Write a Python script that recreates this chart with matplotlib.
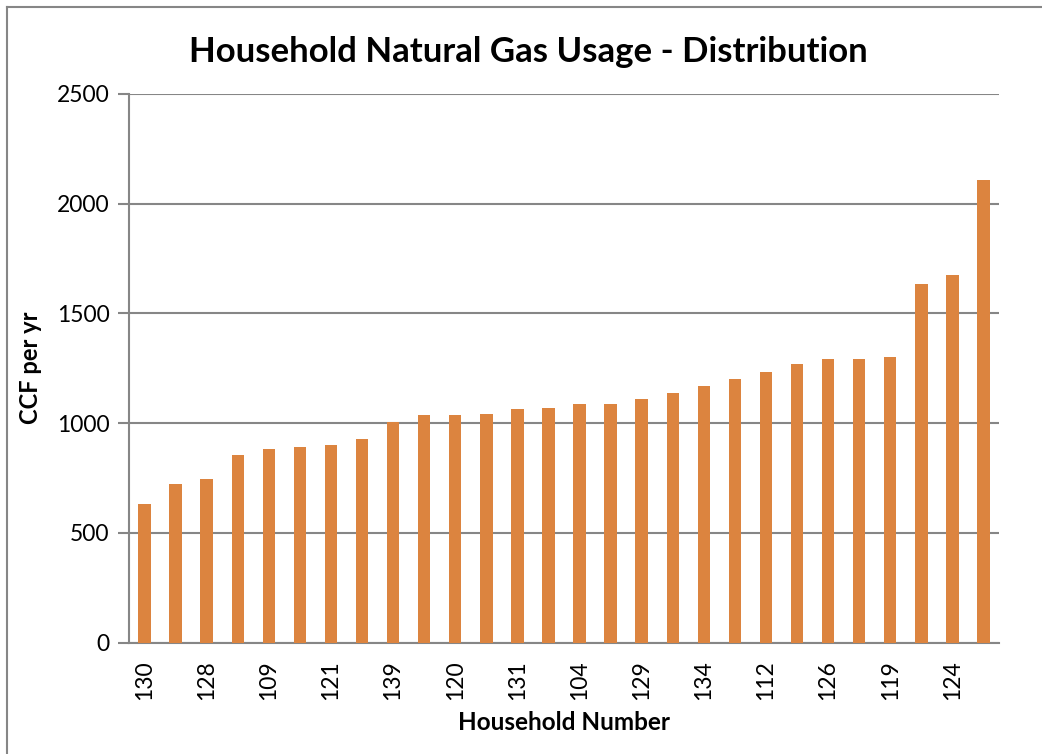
import matplotlib
matplotlib.use("Agg")
import matplotlib.pyplot as plt
from matplotlib.lines import Line2D

# household ids (only every other one is printed on the axis)
households = ["130", "115", "128", "127", "109", "105", "121", "136", "139", "110",
              "120", "117", "131", "133", "104", "102", "129", "138", "134", "107",
              "112", "123", "126", "113", "119", "132", "124", "118"]
usage = [633, 723, 744, 856, 882, 892, 900, 927, 1007, 1036,
         1036, 1042, 1064, 1070, 1086, 1088, 1111, 1136, 1170, 1201,
         1233, 1270, 1294, 1294, 1300, 1636, 1676, 2109]
yticks = [0, 500, 1000, 1500, 2000, 2500]

plt.rcParams['font.family'] = ['Lato', 'DejaVu Sans']
grey = '#868686'
orange = '#DC843F'

fig = plt.figure(figsize=(10.42, 7.54), dpi=100)
ax = fig.add_axes([129 / 1042, 1 - 642.5 / 754, 870 / 1042, 548.5 / 754])

x = list(range(len(usage)))
ax.bar(x, usage, width=0.4, color=orange, zorder=3)

ax.set_xlim(-0.5, len(usage) - 0.5)
ax.set_ylim(0, 2500)
ax.set_yticks(yticks)
ax.set_yticklabels([str(t) for t in yticks], fontsize=16.5)
ax.set_xticks(x[::2])
ax.set_xticklabels(households[::2], rotation=90, fontsize=16.5)
ax.tick_params(axis='x', length=0, pad=13)
ax.tick_params(axis='y', length=8, width=1.5, color=grey, direction='out', pad=6)

ax.grid(axis='y', color=grey, linewidth=1.5, zorder=0)
for s in ['top', 'right']:
    ax.spines[s].set_visible(False)
for s in ['left', 'bottom']:
    ax.spines[s].set_color(grey)
    ax.spines[s].set_linewidth(1.5)

fig.text(528 / 1042, 1 - 52 / 754, "Household Natural Gas Usage - Distribution",
         ha='center', va='center', fontsize=25, fontweight='bold')
fig.text(30 / 1042, 1 - 368 / 754, "CCF per yr", rotation=90,
         ha='center', va='center', fontsize=17, fontweight='bold')
fig.text(564 / 1042, 1 - 722 / 754, "Household Number",
         ha='center', va='center', fontsize=17.5, fontweight='bold')

# chart area border (only left and top visible in the crop)
fig.add_artist(Line2D([7 / 1042, 7 / 1042], [0, 1 - 7 / 754], color=grey, linewidth=1.5))
fig.add_artist(Line2D([7 / 1042, 1], [1 - 7 / 754, 1 - 7 / 754], color=grey, linewidth=1.5))

fig.savefig("out.png", dpi=100)
